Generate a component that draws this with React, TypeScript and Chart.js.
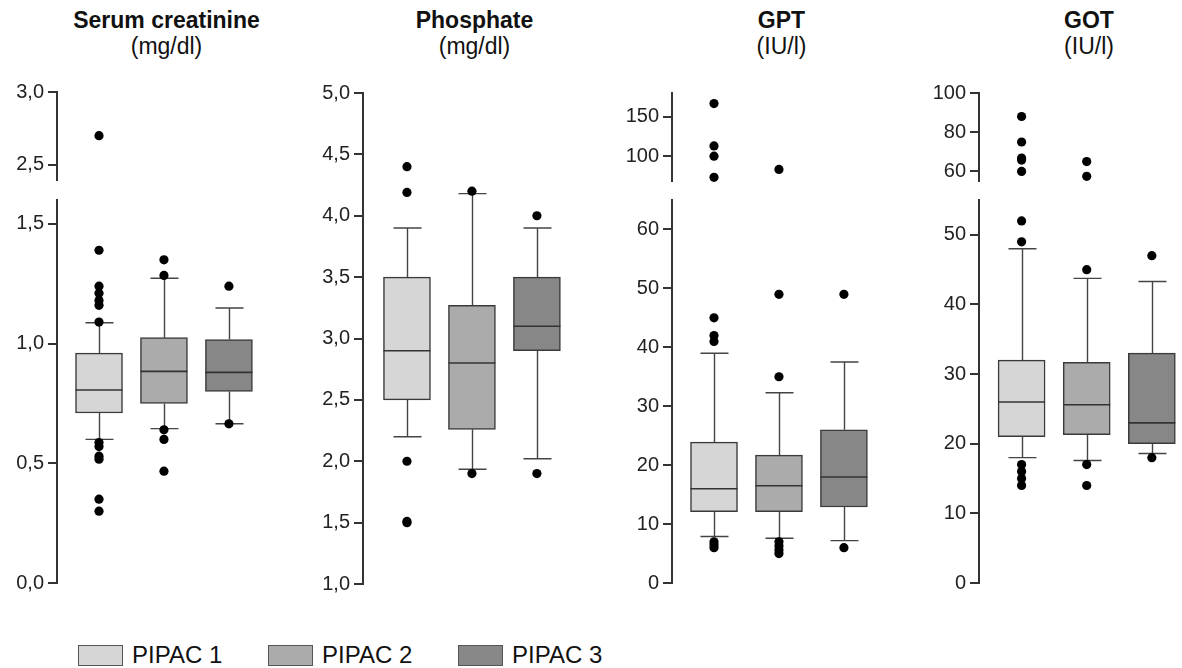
import React, { useEffect, useRef } from 'react';
import { Chart, registerables } from 'chart.js';

Chart.register(...registerables);

const FONT = '"Liberation Sans", Arial, Helvetica, sans-serif';

// ---- groups ----
const groupLabels = ['PIPAC 1', 'PIPAC 2', 'PIPAC 3'];
const groupColors = ['#d6d6d6', '#ababab', '#878787'];

// ---- Serum creatinine (mg/dl) ----
const creatQ1 = [0.71, 0.75, 0.8];
const creatMedian = [0.806, 0.884, 0.88];
const creatQ3 = [0.96, 1.025, 1.017];
const creatWhiskerLow = [0.6, 0.645, 0.665];
const creatWhiskerHigh = [1.087, 1.273, 1.149];
const creatOutliers1 = [2.7, 1.39, 1.24, 1.21, 1.18, 1.16, 1.09, 0.587, 0.57, 0.53, 0.517, 0.35, 0.3];
const creatOutliers2 = [1.35, 1.285, 0.64, 0.6, 0.467];
const creatOutliers3 = [1.24, 0.665];
const creatTicksUpper = [2.5, 3.0];
const creatTicksLower = [0, 0.5, 1.0, 1.5];

// ---- Phosphate (mg/dl) ----
const phosQ1 = [2.5, 2.26, 2.9];
const phosMedian = [2.9, 2.8, 3.1];
const phosQ3 = [3.5, 3.27, 3.5];
const phosWhiskerLow = [2.2, 1.935, 2.02];
const phosWhiskerHigh = [3.9, 4.18, 3.9];
const phosOutliers1 = [4.4, 4.19, 2.0, 1.5, 1.51];
const phosOutliers2 = [4.2, 1.9];
const phosOutliers3 = [4.0, 1.9];
const phosTicks = [1.0, 1.5, 2.0, 2.5, 3.0, 3.5, 4.0, 4.5, 5.0];

// ---- GPT (IU/l) ----
const gptQ1 = [12.1, 12.1, 12.9];
const gptMedian = [16.0, 16.5, 18.0];
const gptQ3 = [23.9, 21.7, 26.0];
const gptWhiskerLow = [7.9, 7.6, 7.2];
const gptWhiskerHigh = [39.0, 32.3, 37.5];
const gptOutliers1 = [167, 113, 100, 73, 45, 42, 41, 7, 6.5, 6];
const gptOutliers2 = [83, 49, 35, 7, 6.3, 5.6, 5];
const gptOutliers3 = [49, 6];
const gptTicksUpper = [100, 150];
const gptTicksLower = [0, 10, 20, 30, 40, 50, 60];

// ---- GOT (IU/l) ----
const gotQ1 = [21.0, 21.3, 20.0];
const gotMedian = [26.0, 25.6, 23.0];
const gotQ3 = [32.0, 31.7, 33.0];
const gotWhiskerLow = [18.0, 17.6, 18.6];
const gotWhiskerHigh = [48.0, 43.75, 43.3];
const gotOutliers1 = [88, 75, 66.8, 65.8, 60, 52, 49, 17, 16, 15, 14];
const gotOutliers2 = [65, 57.5, 45, 17, 14];
const gotOutliers3 = [47, 18];
const gotTicksUpper = [60, 80, 100];
const gotTicksLower = [0, 10, 20, 30, 40, 50];

// ---- layout constants ----
const AXIS_W = 55;
const PAD = 14;
const PX_PER_GROUP = 66.5;
const X_MAX = 3.5;
const BOX_W = 47;
const CAP_HALF = 14;

type Segment = { min: number; max: number; ticks: number[]; top: number; bottom: number; main?: boolean };
type Panel = {
  title: string; unit: string;
  q1: number[]; median: number[]; q3: number[]; lo: number[]; hi: number[];
  outliers: number[][]; decimals: number;
  axisX: number; firstX: number; segments: Segment[];
};

const panels: Panel[] = [
  {
    title: 'Serum creatinine', unit: '(mg/dl)',
    q1: creatQ1, median: creatMedian, q3: creatQ3, lo: creatWhiskerLow, hi: creatWhiskerHigh,
    outliers: [creatOutliers1, creatOutliers2, creatOutliers3], decimals: 1,
    axisX: 57, firstX: 100,
    segments: [
      { min: 2.395, max: 3.0, ticks: creatTicksUpper, top: 90, bottom: 182 },
      { min: 0, max: 1.6, ticks: creatTicksLower, top: 198, bottom: 585, main: true },
    ],
  },
  {
    title: 'Phosphate', unit: '(mg/dl)',
    q1: phosQ1, median: phosMedian, q3: phosQ3, lo: phosWhiskerLow, hi: phosWhiskerHigh,
    outliers: [phosOutliers1, phosOutliers2, phosOutliers3], decimals: 1,
    axisX: 363, firstX: 408,
    segments: [{ min: 1, max: 5, ticks: phosTicks, top: 91, bottom: 586, main: true }],
  },
  {
    title: 'GPT', unit: '(IU/l)',
    q1: gptQ1, median: gptMedian, q3: gptQ3, lo: gptWhiskerLow, hi: gptWhiskerHigh,
    outliers: [gptOutliers1, gptOutliers2, gptOutliers3], decimals: 0,
    axisX: 672, firstX: 715,
    segments: [
      { min: 68.3, max: 180.5, ticks: gptTicksUpper, top: 91, bottom: 183 },
      { min: 0, max: 65, ticks: gptTicksLower, top: 198, bottom: 585, main: true },
    ],
  },
  {
    title: 'GOT', unit: '(IU/l)',
    q1: gotQ1, median: gotMedian, q3: gotQ3, lo: gotWhiskerLow, hi: gotWhiskerHigh,
    outliers: [gotOutliers1, gotOutliers2, gotOutliers3], decimals: 0,
    axisX: 979, firstX: 1022.5,
    segments: [
      { min: 55.1, max: 100, ticks: gotTicksUpper, top: 91, bottom: 183 },
      { min: 0, max: 55, ticks: gotTicksLower, top: 198, bottom: 585, main: true },
    ],
  },
];

function xMinFor(p: Panel) {
  return 1 - (p.firstX - p.axisX) / PX_PER_GROUP;
}
function canvasWidth(p: Panel) {
  return AXIS_W + (X_MAX - xMinFor(p)) * PX_PER_GROUP;
}

function buildChart(canvas: HTMLCanvasElement, p: Panel, seg: Segment) {
  const points: { x: number; y: number }[] = [];
  p.outliers.forEach((arr, i) => {
    arr.forEach((v) => {
      if (v >= seg.min && v <= seg.max) points.push({ x: i + 1, y: v });
    });
  });
  const datasets: any[] = [
    {
      type: 'scatter',
      data: points,
      order: 0,
      pointRadius: 4.6,
      pointBackgroundColor: '#000',
      pointBorderWidth: 0,
      clip: false,
    },
  ];
  if (seg.main) {
    datasets.push({
      type: 'bar',
      data: groupLabels.map((_, i) => ({ x: i + 1, y: [p.q1[i], p.q3[i]] })),
      order: 1,
      backgroundColor: groupColors,
      borderColor: '#3a3a3a',
      borderWidth: 1.5,
      borderSkipped: false,
      barThickness: BOX_W,
    });
  }

  const boxPlugin = {
    id: 'boxExtras',
    beforeDatasetsDraw(chart: any) {
      if (!seg.main) return;
      const xs = chart.scales.x;
      const ys = chart.scales.y;
      const ctx = chart.ctx;
      ctx.save();
      ctx.strokeStyle = '#444';
      ctx.lineWidth = 1.4;
      for (let i = 0; i < groupLabels.length; i++) {
        const x = Math.round(xs.getPixelForValue(i + 1)) + 0.5;
        const yHi = ys.getPixelForValue(p.hi[i]);
        const yQ3 = ys.getPixelForValue(p.q3[i]);
        const yLo = ys.getPixelForValue(p.lo[i]);
        const yQ1 = ys.getPixelForValue(p.q1[i]);
        ctx.beginPath();
        ctx.moveTo(x, yQ3);
        ctx.lineTo(x, yHi);
        ctx.moveTo(x - CAP_HALF, yHi);
        ctx.lineTo(x + CAP_HALF, yHi);
        ctx.moveTo(x, yQ1);
        ctx.lineTo(x, yLo);
        ctx.moveTo(x - CAP_HALF, yLo);
        ctx.lineTo(x + CAP_HALF, yLo);
        ctx.stroke();
      }
      ctx.restore();
    },
    afterDatasetDraw(chart: any, args: any) {
      if (!seg.main || args.meta.type !== 'bar') return;
      const xs = chart.scales.x;
      const ys = chart.scales.y;
      const ctx = chart.ctx;
      ctx.save();
      ctx.strokeStyle = '#333';
      ctx.lineWidth = 1.6;
      for (let i = 0; i < groupLabels.length; i++) {
        const x = xs.getPixelForValue(i + 1);
        const y = ys.getPixelForValue(p.median[i]);
        ctx.beginPath();
        ctx.moveTo(x - BOX_W / 2, y);
        ctx.lineTo(x + BOX_W / 2, y);
        ctx.stroke();
      }
      ctx.restore();
    },
  };

  const fmt = (v: number) => (p.decimals > 0 ? v.toFixed(p.decimals).replace('.', ',') : String(v));

  return new Chart(canvas, {
    type: 'bar',
    data: { datasets },
    options: {
      animation: false,
      responsive: false,
      maintainAspectRatio: false,
      events: [],
      layout: { padding: { top: PAD, bottom: PAD, left: 0, right: 0 } },
      plugins: { legend: { display: false }, tooltip: { enabled: false }, title: { display: false } },
      scales: {
        x: { type: 'linear', min: xMinFor(p), max: X_MAX, display: false, offset: false, grid: { offset: false } },
        y: {
          type: 'linear',
          min: seg.min,
          max: seg.max,
          afterBuildTicks: (s: any) => {
            s.ticks = seg.ticks.map((v) => ({ value: v }));
          },
          afterFit: (s: any) => {
            s.width = AXIS_W;
          },
          ticks: {
            callback: (v: any) => fmt(Number(v)),
            font: { family: FONT, size: 20 },
            color: '#222',
            padding: 4,
            autoSkip: false,
          },
          grid: { drawOnChartArea: false, drawTicks: true, tickLength: 9, color: '#333', lineWidth: 2 },
          border: { display: true, color: '#333', width: 2 },
        },
      },
    } as any,
    plugins: [boxPlugin as any],
  });
}

function SegmentCanvas({ panel, seg }: { panel: Panel; seg: Segment }) {
  const ref = useRef<HTMLCanvasElement | null>(null);
  const w = Math.round(canvasWidth(panel));
  const h = seg.bottom - seg.top + 2 * PAD;
  useEffect(() => {
    if (!ref.current) return;
    const chart = buildChart(ref.current, panel, seg);
    return () => chart.destroy();
  }, []);
  return (
    <canvas
      ref={ref}
      width={w}
      height={h}
      style={{ position: 'absolute', left: panel.axisX - AXIS_W, top: seg.top - PAD, width: w, height: h }}
    />
  );
}

export default function App() {
  return (
    <div
      style={{
        position: 'absolute', left: 0, top: 0, width: 1182, height: 668,
        overflow: 'hidden', background: '#fff', fontFamily: FONT, color: '#111',
      }}
    >
      {panels.map((p, pi) => {
        const center = p.firstX + PX_PER_GROUP;
        return (
          <div
            key={'t' + pi}
            style={{
              position: 'absolute', left: center - 150, top: 7, width: 300,
              textAlign: 'center', lineHeight: '26px', fontSize: 23,
            }}
          >
            <div style={{ fontWeight: 'bold' }}>{p.title}</div>
            <div>{p.unit}</div>
          </div>
        );
      })}
      {panels.map((p, pi) =>
        p.segments.map((s, si) => <SegmentCanvas key={pi + '-' + si} panel={p} seg={s} />)
      )}
      {groupLabels.map((g, i) => {
        const left = 78 + i * 190;
        return (
          <React.Fragment key={'l' + i}>
            <div
              style={{
                position: 'absolute', left, top: 645, width: 45, height: 21, boxSizing: 'border-box',
                background: groupColors[i], border: '1.5px solid #555',
              }}
            />
            <div
              style={{
                position: 'absolute', left: left + 54, top: 643, fontSize: 24, lineHeight: '24px',
                whiteSpace: 'nowrap', color: '#111',
              }}
            >
              {g}
            </div>
          </React.Fragment>
        );
      })}
    </div>
  );
}
